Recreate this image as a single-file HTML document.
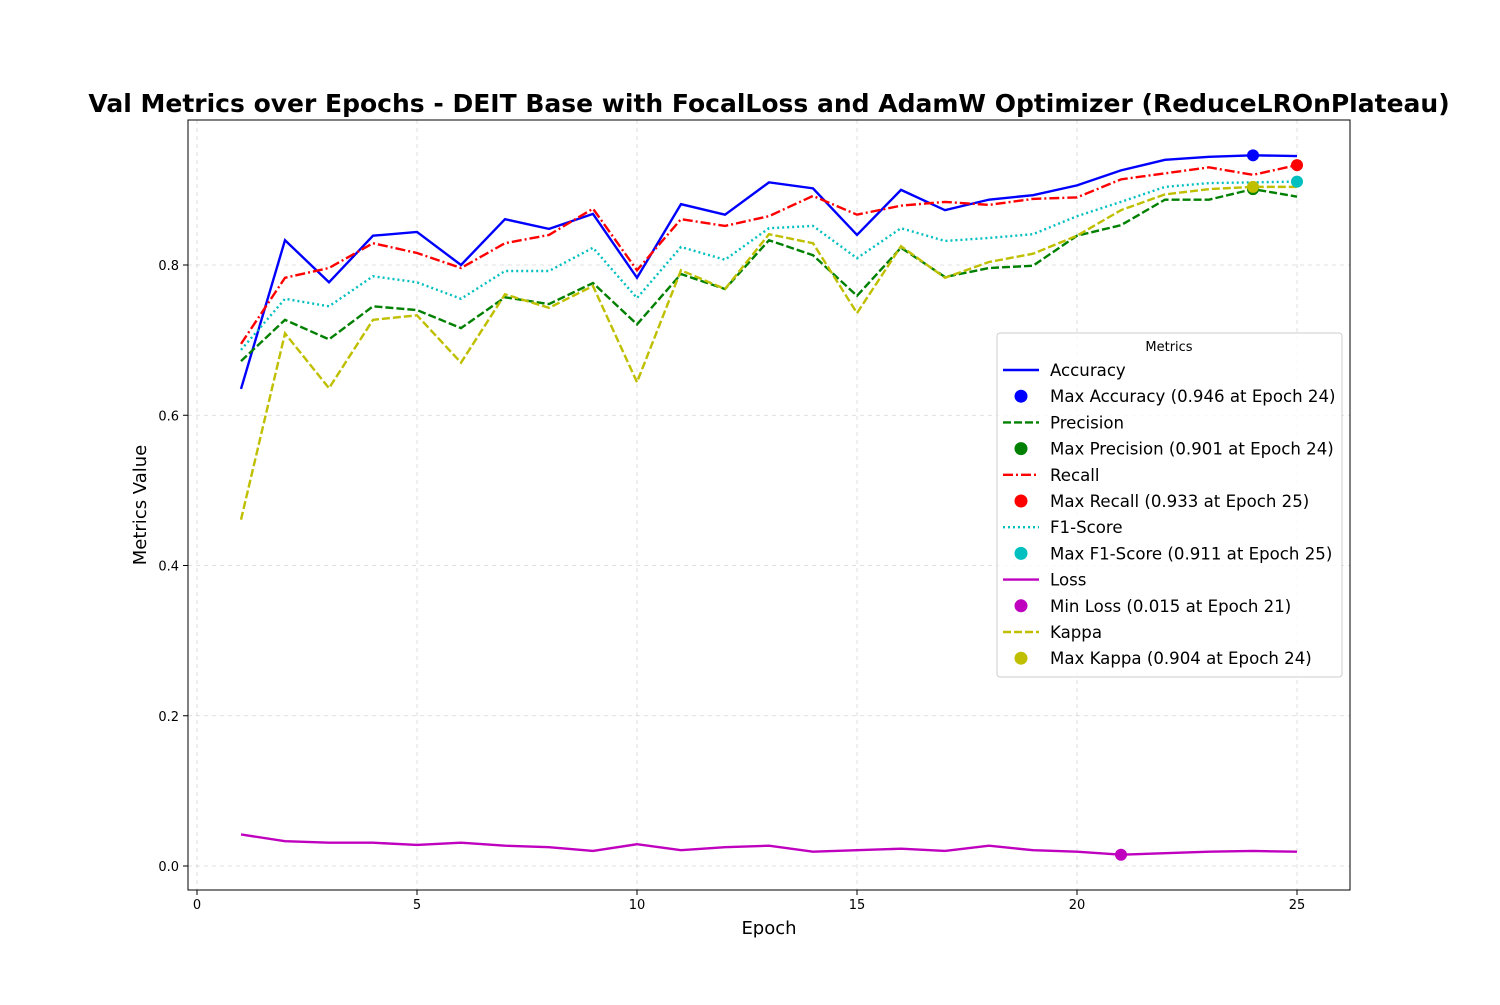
<!DOCTYPE html>
<html><head><meta charset="utf-8"><style>
body{margin:0;background:#fff;font-family:"Liberation Sans","DejaVu Sans",sans-serif}
</style></head><body>
<svg id="chart" width="1500" height="1000" xmlns="http://www.w3.org/2000/svg" font-family="DejaVu Sans, Liberation Sans, sans-serif"></svg>
<script>
const epochs=[1,2,3,4,5,6,7,8,9,10,11,12,13,14,15,16,17,18,19,20,21,22,23,24,25];
const accuracy=[0.635,0.833,0.777,0.839,0.844,0.800,0.861,0.848,0.868,0.783,0.881,0.867,0.910,0.902,0.840,0.900,0.873,0.887,0.893,0.906,0.926,0.940,0.944,0.946,0.945];
const precision=[0.672,0.727,0.701,0.745,0.740,0.716,0.757,0.748,0.776,0.721,0.788,0.768,0.833,0.813,0.759,0.823,0.784,0.796,0.799,0.839,0.853,0.887,0.887,0.901,0.891];
const recall=[0.695,0.783,0.796,0.829,0.816,0.796,0.829,0.840,0.875,0.793,0.861,0.852,0.865,0.892,0.867,0.879,0.884,0.880,0.888,0.890,0.914,0.922,0.930,0.920,0.933];
const f1=[0.687,0.755,0.745,0.785,0.777,0.755,0.792,0.792,0.823,0.756,0.824,0.807,0.849,0.852,0.809,0.849,0.832,0.836,0.841,0.865,0.884,0.904,0.909,0.910,0.911];
const loss=[0.042,0.033,0.031,0.031,0.028,0.031,0.027,0.025,0.020,0.029,0.021,0.025,0.027,0.019,0.021,0.023,0.020,0.027,0.021,0.019,0.015,0.017,0.019,0.020,0.019];
const kappa=[0.461,0.709,0.636,0.727,0.733,0.670,0.761,0.743,0.772,0.644,0.793,0.768,0.841,0.829,0.736,0.825,0.783,0.804,0.815,0.839,0.873,0.894,0.901,0.904,0.904];
const xTicks=[0,5,10,15,20,25];
const yTicks=[0.0,0.2,0.4,0.6,0.8];

const svg=document.getElementById('chart');
const NS='http://www.w3.org/2000/svg';
const L=188,R=1350,T=120,B=890;
const xs=e=>197+e*44;
const ys=v=>866-v*751.25;
function mk(tag,attrs,parent){const el=document.createElementNS(NS,tag);for(const k in attrs)el.setAttribute(k,attrs[k]);(parent||svg).appendChild(el);return el;}

xTicks.forEach(t=>{
  const g=mk('line',{x1:xs(t),x2:xs(t),y1:T,y2:B,stroke:'#b0b0b0','stroke-width':0.8,'stroke-dasharray':'4,4',opacity:0.5});
  
  
  mk('line',{x1:xs(t),x2:xs(t),y1:B,y2:B+5,stroke:'#000'});
  const tx=mk('text',{x:xs(t),y:B+19,'text-anchor':'middle','font-size':13});
  tx.textContent=t;
  
  
});
yTicks.forEach(t=>{
  const g=mk('line',{x1:L,x2:R,y1:ys(t),y2:ys(t),stroke:'#b0b0b0','stroke-width':0.8,'stroke-dasharray':'4,4',opacity:0.5});
  
  
  mk('line',{x1:L-5,x2:L,y1:ys(t),y2:ys(t),stroke:'#000'});
  const tx=mk('text',{x:L-9,y:ys(t)+5,'text-anchor':'end','font-size':13});
  tx.textContent=t.toFixed(1);
  
  
});
const fr=mk('rect',{x:L,y:T,width:R-L,height:B-T,fill:'none',stroke:'#000','stroke-width':1});



const series=[
 {name:'Accuracy',data:accuracy,color:'#0000ff',dash:'',mode:'max',lbl:'Max Accuracy'},
 {name:'Precision',data:precision,color:'#008000',dash:'8,3',mode:'max',lbl:'Max Precision'},
 {name:'Recall',data:recall,color:'#ff0000',dash:'10,3,2,3',mode:'max',lbl:'Max Recall'},
 {name:'F1-Score',data:f1,color:'#00bfbf',dash:'2,3',mode:'max',lbl:'Max F1-Score'},
 {name:'Loss',data:loss,color:'#bf00bf',dash:'',mode:'min',lbl:'Min Loss'},
 {name:'Kappa',data:kappa,color:'#bfbf00',dash:'8,3',mode:'max',lbl:'Max Kappa'}
];
series.forEach(s=>{
  const p=mk('polyline',{points:s.data.map((v,i)=>xs(epochs[i])+','+ys(v)).join(' '),fill:'none',stroke:s.color,'stroke-width':2.4,'stroke-dasharray':s.dash});
  
  
});
series.forEach(s=>{
  let bi=0;s.data.forEach((v,i)=>{if(s.mode==='max'?v>s.data[bi]:v<s.data[bi])bi=i;});
  s.bi=bi;
  const c=mk('circle',{cx:xs(epochs[bi]),cy:ys(s.data[bi]),r:6,fill:s.color});
  
  
});

const ti=mk('text',{x:769,y:112,'text-anchor':'middle','font-size':25,'font-weight':'bold'});
ti.textContent='Val Metrics over Epochs - DEIT Base with FocalLoss and AdamW Optimizer (ReduceLROnPlateau)';


const xl=mk('text',{x:769,y:934,'text-anchor':'middle','font-size':18});
xl.textContent='Epoch';


const yl=mk('text',{x:146,y:505,'text-anchor':'middle','font-size':18,transform:'rotate(-90 146 505)'});
yl.textContent='Metrics Value';



const lg=mk('g',{});


mk('rect',{x:997,y:333,width:345,height:344,rx:3,fill:'#fff','fill-opacity':0.8,stroke:'#ccc'},lg);
const lt=mk('text',{x:1169,y:351,'text-anchor':'middle','font-size':13},lg);
lt.textContent='Metrics';
let yy=370;
series.forEach(s=>{
  const e1=mk('g',{},lg);
  
  
  mk('line',{x1:1003,x2:1039,y1:yy,y2:yy,stroke:s.color,'stroke-width':2.4,'stroke-dasharray':s.dash},e1);
  const t1=mk('text',{x:1050,y:yy+6,'font-size':16.6},e1);t1.textContent=s.name;
  yy+=26.2;
  const e2=mk('g',{},lg);
  
  
  mk('circle',{cx:1021,cy:yy,r:6.5,fill:s.color},e2);
  const t2=mk('text',{x:1050,y:yy+6,'font-size':16.6},e2);
  t2.textContent=s.lbl+' ('+s.data[s.bi].toFixed(3)+' at Epoch '+epochs[s.bi]+')';
  yy+=26.2;
});
</script>
</body></html>
